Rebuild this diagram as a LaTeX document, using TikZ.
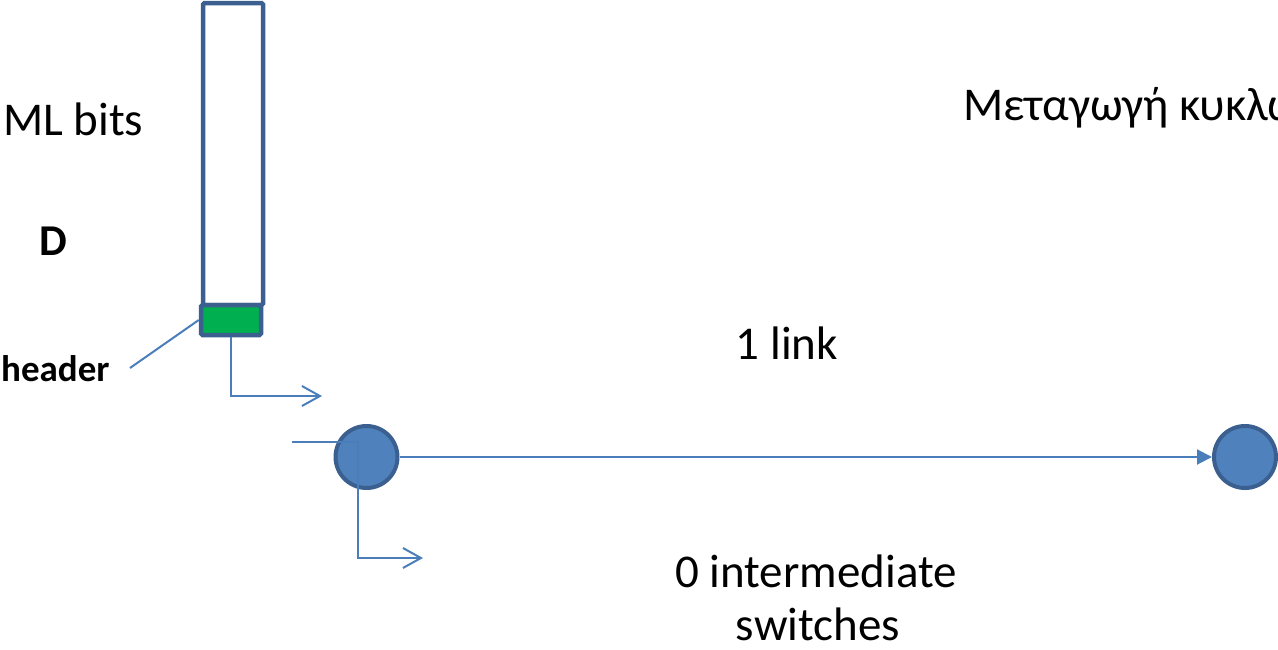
\documentclass[tikz,border=0pt]{standalone}
\usepackage{fontspec}
\setmainfont{Carlito}
\usetikzlibrary{arrows.meta}
\definecolor{boxline}{HTML}{3B5F8F}
\definecolor{nodefill}{HTML}{4F81BD}
\definecolor{conn}{HTML}{4A7EBB}
\definecolor{hdrgreen}{HTML}{00B050}
\tikzset{
  pkt/.style={draw=boxline, line width=4.5pt, inner sep=0pt, rounded corners=1.5pt},
  sw/.style={circle, draw=boxline, fill=nodefill, line width=4pt, minimum size=62pt, inner sep=0pt},
  conline/.style={draw=conn, line width=2pt},
  barb/.style={-{Straight Barb[length=18pt,width=20pt,line width=2pt]}},
  big/.style={font=\fontsize{47}{56}\selectfont, inner sep=0pt},
}
\begin{document}
\begin{tikzpicture}[x=1pt,y=-1pt]
\useasboundingbox (0,0) rectangle (1278,649);
\clip (0,0) rectangle (1278,649);
% packet
\node[pkt, fill=white, minimum width=60pt, minimum height=302pt] (pkt) at (233,154) {};
\node[pkt, fill=hdrgreen, minimum width=60pt, minimum height=30pt] (hdr) at (231,320) {};
% switches
\node[sw] (s1) at (366.5,457) {};
\node[sw] (s2) at (1245,457) {};
% texts
\node[big, anchor=base west] (ml) at (3,135) {ML bits};
\node[inner sep=0pt, anchor=base west, font=\fontsize{44}{52}\selectfont\bfseries] (d) at (39,255) {D};
\node[inner sep=0pt, anchor=base west, font=\fontsize{37}{44}\selectfont\bfseries] (hd) at (1,381) {header};
\node[big, anchor=base] (link) at (787,359) {1 link};
\node[big, anchor=base] (inter) at (816,587) {0 intermediate};
\node[big, anchor=base] (swt) at (818,640) {switches};
\node[big, anchor=base west] (title) at (963,120) {Μεταγωγή κυκλώματος};
% connectors
\coordinate (hdl) at (130,368);
\draw[conline] (hdl) -- (hdr.west);
\coordinate (a1) at (322,396);
\draw[conline, barb] (hdr.south) |- (a1);
\coordinate (b0) at (292,442);
\coordinate (b1) at (358,442);
\coordinate (b2) at (423,558);
\draw[conline, barb] (b0) -- (b1) |- (b2);
\draw[conline, -{Triangle[length=15pt,width=15pt]}] (s1.east) -- (s2.west);
\end{tikzpicture}
\end{document}
